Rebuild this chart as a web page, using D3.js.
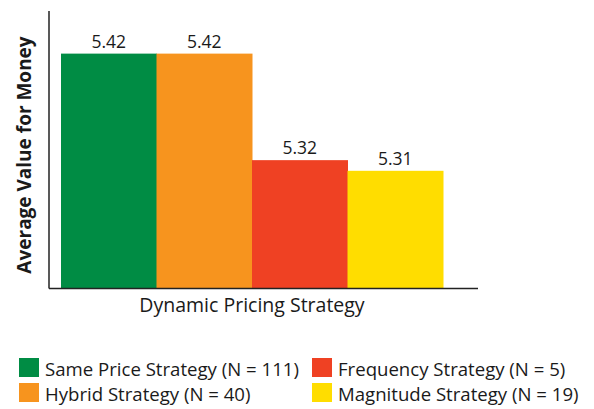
<!DOCTYPE html>
<html>
<head>
    <script src="https://d3js.org/d3.v7.min.js"></script>
    <style>
        body { margin: 0; background: white; }
        text { font-family: "Open Sans", "Noto Sans", sans-serif; fill: #1a1a1a; }
    </style>
</head>
<body>
    <svg width="594" height="409"></svg>
    <script>
        const categories = ["Same Price Strategy", "Hybrid Strategy", "Frequency Strategy", "Magnitude Strategy"]
        const counts = [111, 40, 5, 19]
        const values = [5.42, 5.42, 5.32, 5.31]
        const colors = ["#008c44", "#f7941e", "#ef4123", "#ffdd00"]

        const svg = d3.select("svg")

        const axisLeft = 49, axisRight = 478, axisTop = 11, axisBottom = 288

        const x = d3.scaleBand()
            .domain(categories)
            .range([61, 443])
            .padding(0)

        const y = d3.scaleLinear()
            .domain([5.2, 5.46])
            .range([axisBottom, axisTop])

        const data = categories.map((c, i) => ({ name: c, value: values[i], color: colors[i], n: counts[i] }))

        svg.selectAll(".bar")
            .data(data)
            .enter().append("rect")
            .attr("class", "bar")
            .attr("x", d => x(d.name))
            .attr("y", d => y(d.value))
            .attr("width", x.bandwidth() + 0.5)
            .attr("height", d => axisBottom - y(d.value))
            .attr("fill", d => d.color)

        svg.selectAll(".val")
            .data(data)
            .enter().append("text")
            .attr("x", d => x(d.name) + x.bandwidth() / 2)
            .attr("y", d => y(d.value) - 6)
            .attr("text-anchor", "middle")
            .style("font-size", "17.5px")
            .text(d => d.value.toFixed(2))

        // axes lines only, no ticks
        svg.append("line")
            .attr("x1", axisLeft).attr("x2", axisLeft)
            .attr("y1", axisTop).attr("y2", axisBottom + 0.5)
            .attr("stroke", "#222").attr("stroke-width", 1.5)
        svg.append("line")
            .attr("x1", axisLeft).attr("x2", axisRight)
            .attr("y1", axisBottom + 0.5).attr("y2", axisBottom + 0.5)
            .attr("stroke", "#222").attr("stroke-width", 1.5)

        svg.append("text")
            .attr("x", 252)
            .attr("y", 312)
            .attr("text-anchor", "middle")
            .style("font-size", "19.5px")
            .text("Dynamic Pricing Strategy")

        svg.append("text")
            .attr("transform", "translate(31,155) rotate(-90)")
            .attr("text-anchor", "middle")
            .style("font-size", "19px")
            .style("font-weight", "bold")
            .text("Average Value for Money")

        // legend, two columns
        const legend = svg.selectAll(".legend")
            .data(data)
            .enter().append("g")
            .attr("class", "legend")
            .attr("transform", (d, i) => "translate(" + (i < 2 ? 19 : 312) + "," + (i % 2 === 0 ? 358 : 383) + ")")

        legend.append("rect")
            .attr("width", 20).attr("height", 19)
            .attr("fill", d => d.color)

        legend.append("text")
            .attr("x", 26)
            .attr("y", 18)
            .style("font-size", "18.6px")
            .text(d => d.name + " (N = " + d.n + ")")
    </script>
</body>
</html>
